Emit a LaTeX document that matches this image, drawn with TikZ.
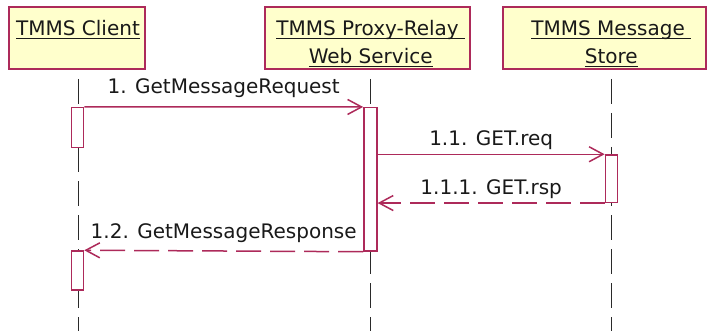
\documentclass[tikz,border=0pt]{standalone}
\usepackage{fontspec}
\setmainfont{DejaVu Sans}
\usetikzlibrary{arrows.meta}
\definecolor{umlred}{HTML}{AD2A5A}
\definecolor{umlfill}{HTML}{FFFFCC}
\definecolor{lifegray}{HTML}{2A2A2A}
\newcommand{\hdul}[1]{\setbox0\hbox{#1}\rlap{\rule[-3.6pt]{\wd0}{1.3pt}}\box0}

\tikzset{
  headbox/.style={draw=umlred, fill=umlfill, line width=1.6pt, minimum height=62pt, inner sep=0pt},
  headtxt/.style={anchor=north, inner sep=0pt, align=center, font=\fontsize{20}{28.4}\selectfont, text=black!90},
  lifeline/.style={draw=lifegray, line width=1.5pt, dash pattern=on 25pt off 9pt},
  actbar/.style={draw=umlred, fill=white, line width=1.5pt, minimum width=12pt, inner sep=0pt},
  msg/.style={draw=umlred, line width=1.5pt, -{Straight Barb[length=14pt,width=15pt]}},
  reply/.style={msg, dash pattern=on 25pt off 9pt},
  msglbl/.style={midway, anchor=base, font=\fontsize{20}{24}\selectfont, text=black!90, inner sep=0pt}
}

\begin{document}
\begin{tikzpicture}[x=1pt, y=-1pt]
  \useasboundingbox (0,0) rectangle (708,331);
  % intestazioni
  \node[headbox, minimum width=136pt] (client) at (77,38.3) {};
  \node[headbox, minimum width=205pt] (proxy) at (367.5,38.3) {};
  \node[headbox, minimum width=203pt] (store) at (604.5,38.3) {};
  \node[headtxt] (client-txt) at (78,15.2) {\strut\hdul{TMMS Client}};
  \node[headtxt] (proxy-txt) at (370.7,15.2) {\strut\hdul{TMMS Proxy-Relay\ }\\\strut\hdul{Web Service}};
  \node[headtxt] (store-txt) at (611.3,15.2) {\strut\hdul{TMMS Message\ }\\\strut\hdul{Store}};
  % linee di vita
  \coordinate (client-top) at (78.3,79);
  \coordinate (client-bot) at (78.3,331);
  \coordinate (proxy-top) at (370.7,79);
  \coordinate (proxy-bot) at (370.7,331);
  \coordinate (store-top) at (611.3,79);
  \coordinate (store-bot) at (611.3,331);
  \draw[lifeline] (client-top) -- (client-bot);
  \draw[lifeline] (proxy-top) -- (proxy-bot);
  \draw[lifeline] (store-top) -- (store-bot);
  % attivazioni
  \node[actbar, minimum height=40pt] (cb1) at (77.5,127.7) {};
  \node[actbar, minimum height=143.3pt, minimum width=13pt] (pb) at (370.4,179.35) {};
  \node[actbar, minimum height=47.3pt] (sb) at (611.4,178.65) {};
  \node[actbar, minimum height=39pt] (cb2) at (77.5,270.5) {};
  % messaggi
  \draw[msg] (cb1.north east) -- node[msglbl, yshift=13pt] (m1) {1. GetMessageRequest} (pb.north west);
  \draw[msg] (pb.east |- sb.north) -- node[msglbl, yshift=9pt] (m2) {1.1. GET.req} (sb.north west);
  \draw[reply] (sb.south west) -- node[msglbl, yshift=9pt] (m3) {1.1.1. GET.rsp} (pb.east |- sb.south);
  \draw[reply] (pb.south west) -- node[msglbl, yshift=13pt] (m4) {1.2. GetMessageResponse} (cb2.north east);
\end{tikzpicture}
\end{document}
